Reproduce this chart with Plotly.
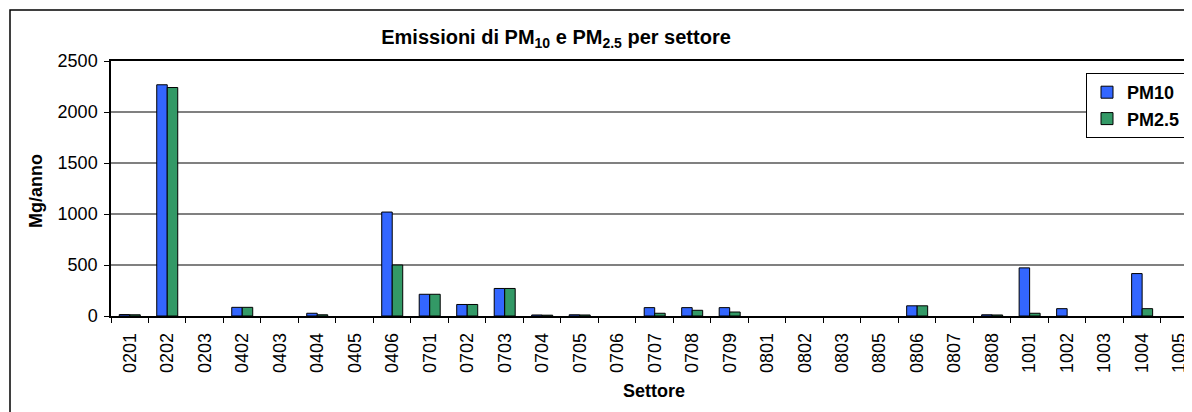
import plotly.graph_objects as go

categories = ["0201", "0202", "0203", "0402", "0403", "0404", "0405", "0406", "0701", "0702",
              "0703", "0704", "0705", "0706", "0707", "0708", "0709", "0801", "0802", "0803",
              "0805", "0806", "0807", "0808", "1001", "1002", "1003", "1004", "1005"]
pm10 = [14, 2267, None, 85, None, 27, None, 1019, 213, 113,
        270, 10, 12, None, 82, 82, 82, None, None, None,
        None, 100, None, 12, 472, 72, None, 416, None]
pm25 = [12, 2240, None, 85, None, 12, None, 500, 213, 113,
        270, 8, 10, None, 27, 56, 39, None, None, None,
        None, 100, None, 10, 27, None, None, 72, None]
y_ticks = [0, 500, 1000, 1500, 2000, 2500]

FONT = "Liberation Sans, Arial, sans-serif"

fig = go.Figure()
fig.add_trace(go.Bar(x=categories, y=pm10, name="PM10",
                     marker=dict(color="#3366FF", line=dict(color="black", width=1))))
fig.add_trace(go.Bar(x=categories, y=pm25, name="PM2.5",
                     marker=dict(color="#339966", line=dict(color="black", width=1))))

# page body has an 8px margin; figure is sized/offset to compensate
OFF = 8
W, H = 1192 - OFF, 412 - OFF
SL, ST, SB = 111, 61, 316          # screen-pixel plot edges
L, T = SL - OFF, ST - OFF
B = (H + OFF) - SB
R = 0
pw, ph = W - L - R, H - T - B

def px_x(sx):
    return (sx - SL) / pw

def px_y(sy):
    return (SB - sy) / ph

fig.update_layout(
    width=W, height=H,
    margin=dict(l=L, r=R, t=T, b=B),
    paper_bgcolor="white", plot_bgcolor="white",
    font=dict(family=FONT, size=18, color="black"),
    barmode="group", bargap=0.44, bargroupgap=0,
    showlegend=True,
    legend=dict(x=px_x(1186), y=px_y(73), xanchor="right", yanchor="top",
                bordercolor="black", borderwidth=1, bgcolor="white",
                font=dict(family=FONT, size=18, color="black", weight="bold"),
                itemwidth=30, tracegroupgap=0),
    title=dict(text="<b>Emissioni di PM<sub>10</sub> e PM<sub>2.5</sub> per settore</b>",
               x=px_x(556), xanchor="center", xref="paper",
               y=1 - (37 - OFF) / H, yanchor="middle", yref="container",
               font=dict(family=FONT, size=20, color="black")),
    xaxis=dict(
        type="category", range=[-0.5, 28.33],
        showline=True, linecolor="black", linewidth=1.5, mirror=True,
        ticks="outside", ticklen=5, tickcolor="black", tickson="boundaries",
        tickangle=-90, tickfont=dict(family=FONT, size=18, color="black"),
        ticklabelstandoff=8,
        showgrid=False,
    ),
    yaxis=dict(
        range=[0, 2500], tickvals=y_ticks,
        showline=True, linecolor="black", linewidth=1.5,
        ticks="outside", ticklen=5, tickcolor="black",
        showgrid=True, gridcolor="#808080", gridwidth=1.5,
        tickfont=dict(family=FONT, size=18, color="black"),
        ticklabelstandoff=3,
        zeroline=False,
    ),
    annotations=[
        dict(text="<b>Settore</b>", xref="paper", yref="paper",
             x=px_x(654), y=px_y(391), xanchor="center", yanchor="middle",
             showarrow=False, font=dict(family=FONT, size=18, color="black")),
        dict(text="<b>Mg/anno</b>", xref="paper", yref="paper",
             x=px_x(36), y=px_y(191), xanchor="center", yanchor="middle",
             textangle=-90, showarrow=False,
             font=dict(family=FONT, size=18, color="black")),
    ],
    shapes=[dict(type="rect", xref="paper", yref="paper",
                 x0=px_x(10), x1=1.05, y0=px_y(10), y1=px_y(430),
                 line=dict(color="black", width=1.5), fillcolor="rgba(0,0,0,0)",
                 layer="below")],
)

fig.write_html("out.html")
